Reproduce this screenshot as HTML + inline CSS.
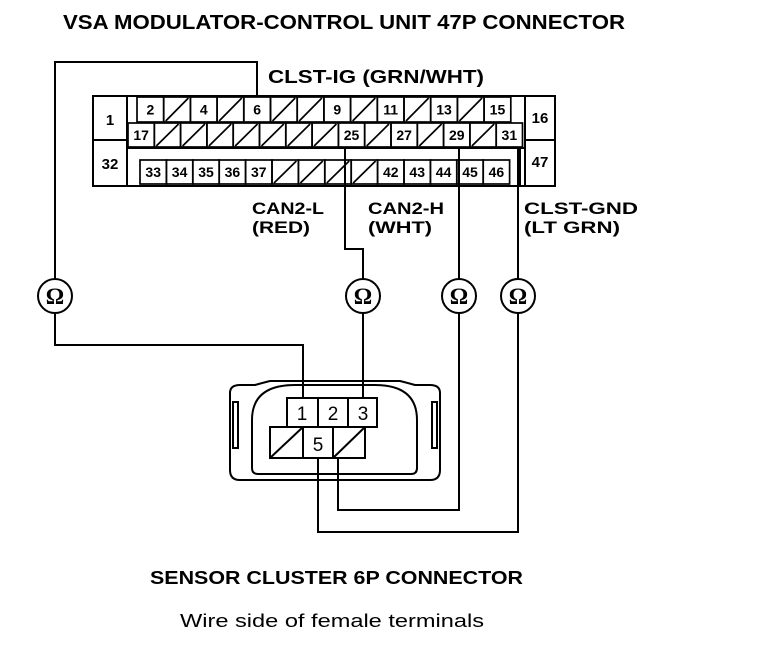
<!DOCTYPE html>
<html><head><meta charset="utf-8"><style>
html,body{margin:0;padding:0;background:#fff;}
svg{display:block;}
text{font-family:"Liberation Sans",sans-serif;fill:#000;}
.b{font-weight:bold;}
.n{font-size:14px;font-weight:bold;text-anchor:middle;}
</style></head><body>
<svg width="768" height="646" viewBox="0 0 768 646" xmlns="http://www.w3.org/2000/svg">
<g fill="none" stroke="#000" stroke-width="2">
<rect x="93" y="96" width="462" height="90"/>
<line x1="127" y1="96" x2="127" y2="186"/>
<line x1="93" y1="140" x2="127" y2="140"/>
<line x1="525" y1="96" x2="525" y2="186"/>
<line x1="525" y1="140" x2="555" y2="140"/>
<line x1="127" y1="148" x2="525" y2="148"/>
<line x1="520" y1="148" x2="520" y2="186"/>
</g>
<g id="cells" fill="none" stroke="#000" stroke-width="1.7"></g>
<g id="lbl"></g>
<text x="110" y="125" text-anchor="middle" font-weight="bold" font-size="15">1</text>
<text x="110" y="169" text-anchor="middle" font-weight="bold" font-size="15">32</text>
<text x="540" y="123" text-anchor="middle" font-weight="bold" font-size="15">16</text>
<text x="540" y="167" text-anchor="middle" font-weight="bold" font-size="15">47</text>
<g fill="none" stroke="#000" stroke-width="2">
<polyline points="257,97 257,62 55,62 55,279"/>
<polyline points="55,313 55,345 303,345 303,398"/>
<polyline points="345,147 345,249 363,249 363,279"/>
<polyline points="363,313 363,398"/>
<polyline points="459,147 459,279"/>
<polyline points="459,313 459,510 338,510 338,458"/>
<polyline points="518,148 518,279"/>
<polyline points="518,313 518,532 318,532 318,458"/>
<circle cx="55" cy="296" r="17"/>
<circle cx="363" cy="296" r="17"/>
<circle cx="459" cy="296" r="17"/>
<circle cx="518" cy="296" r="17"/>
<path d="M230,393 Q230,385 240,385 L255,385 Q262,383 270,381 L400,381 Q408,383 415,385 L430,385 Q440,385 440,393 L440,470 Q440,480 430,480 L240,480 Q230,480 230,470 Z"/>
<path d="M252,468 L252,420 Q252,385 295,385 L375,385 Q417,385 417,420 L417,468 Q417,474 411,474 L258,474 Q252,474 252,468 Z"/>
<rect x="233" y="402" width="5" height="46"/>
<rect x="432" y="402" width="5" height="46"/>
<rect x="287" y="398" width="31" height="29"/>
<rect x="318" y="398" width="30" height="29"/>
<rect x="348" y="398" width="29" height="29"/>
<rect x="270" y="427" width="33" height="31"/>
<rect x="303" y="427" width="30" height="31"/>
<rect x="333" y="427" width="32" height="31"/>
<line x1="270" y1="458" x2="303" y2="427"/>
<line x1="333" y1="458" x2="365" y2="427"/>
</g>
<g text-anchor="middle" font-size="19">
<text x="302" y="420">1</text>
<text x="333" y="420">2</text>
<text x="363" y="420">3</text>
<text x="318" y="451">5</text>
</g>
<g text-anchor="middle">
<text x="55" y="304" style="font-family:'Liberation Serif',serif" font-size="23" font-weight="bold">Ω</text>
<text x="363" y="304" style="font-family:'Liberation Serif',serif" font-size="23" font-weight="bold">Ω</text>
<text x="459" y="304" style="font-family:'Liberation Serif',serif" font-size="23" font-weight="bold">Ω</text>
<text x="518" y="304" style="font-family:'Liberation Serif',serif" font-size="23" font-weight="bold">Ω</text>
</g>
<text x="63" y="29" class="b" font-size="20" textLength="562" lengthAdjust="spacingAndGlyphs">VSA MODULATOR-CONTROL UNIT 47P CONNECTOR</text>
<text x="268" y="83" class="b" font-size="18" textLength="216" lengthAdjust="spacingAndGlyphs">CLST-IG (GRN/WHT)</text>
<text x="252" y="214" class="b" font-size="17" textLength="72" lengthAdjust="spacingAndGlyphs">CAN2-L</text>
<text x="252" y="233" class="b" font-size="17" textLength="58" lengthAdjust="spacingAndGlyphs">(RED)</text>
<text x="368" y="214" class="b" font-size="17" textLength="76" lengthAdjust="spacingAndGlyphs">CAN2-H</text>
<text x="368" y="233" class="b" font-size="17" textLength="64" lengthAdjust="spacingAndGlyphs">(WHT)</text>
<text x="524" y="214" class="b" font-size="17" textLength="114" lengthAdjust="spacingAndGlyphs">CLST-GND</text>
<text x="524" y="233" class="b" font-size="17" textLength="96" lengthAdjust="spacingAndGlyphs">(LT GRN)</text>
<text x="150" y="584" class="b" font-size="18" textLength="373" lengthAdjust="spacingAndGlyphs">SENSOR CLUSTER 6P CONNECTOR</text>
<text x="180" y="627" font-size="18" textLength="304" lengthAdjust="spacingAndGlyphs">Wire side of female terminals</text>
<script>
(function(){
var ns="http://www.w3.org/2000/svg";
var cg=document.getElementById("cells"), lg=document.getElementById("lbl");
function row(x0,w,y0,h,labels){
 labels.forEach(function(l,i){
  var x=x0+i*w;
  var r=document.createElementNS(ns,"rect");
  r.setAttribute("x",x);r.setAttribute("y",y0);r.setAttribute("width",w);r.setAttribute("height",h);
  cg.appendChild(r);
  if(l==="/"){
   var ln=document.createElementNS(ns,"line");
   ln.setAttribute("x1",x+2);ln.setAttribute("y1",y0+h-1);ln.setAttribute("x2",x+w-2);ln.setAttribute("y2",y0+1);
   cg.appendChild(ln);
  } else {
   var t=document.createElementNS(ns,"text");
   t.setAttribute("x",x+w/2);t.setAttribute("y",y0+h/2+5);t.setAttribute("class","n");
   t.textContent=l;lg.appendChild(t);
  }
 });
}
row(137,26.7,97,25,["2","/","4","/","6","/","/","9","/","11","/","13","/","15"]);
row(128,26.3,123,24,["17","/","/","/","/","/","/","/","25","/","27","/","29","/","31"]);
row(140,26.4,160,24,["33","34","35","36","37","/","/","/","/","42","43","44","45","46"]);
})();
</script>
</svg>
</body></html>
